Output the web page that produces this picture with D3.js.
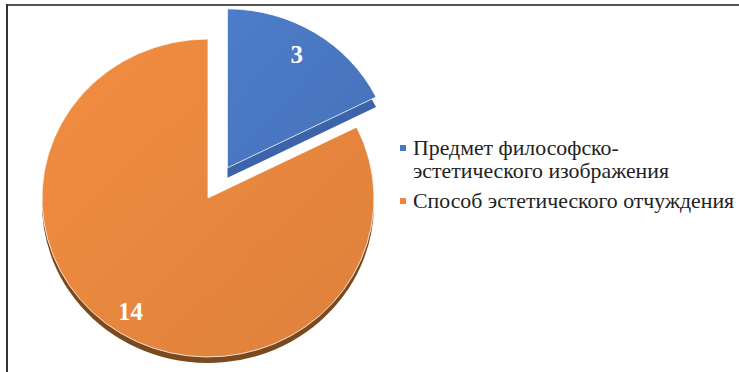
<!DOCTYPE html>
<html>
<head>
<meta charset="utf-8">
<script src="https://cdn.jsdelivr.net/npm/d3@7"></script>
<style>
  body { margin: 0; background: #fff; }
  svg { display: block; }
  text { font-family: 'Liberation Serif', 'DejaVu Serif', serif; }
</style>
</head>
<body>
<div id="chart"></div>
<script>
// données du graphique
const categories = ["Предмет философско-эстетического изображения", "Способ эстетического отчуждения"];
const legendLines = [["Предмет философско-", "эстетического изображения"], ["Способ эстетического отчуждения"]];
const values = [3, 14];
const colors = ["#4a77c1", "#e8873e"];
const sideColors = ["#3c64a8", "#7a4a1e"];

const width = 739, height = 372;
const cx = 208, cy = 198;      // centre du camembert
const rx = 166, ry = 159;      // ellipse (léger effet 3D)
const explode = [37, 0];
const depth = [10, 6];

const svg = d3.select("#chart").append("svg")
    .attr("width", width)
    .attr("height", height);

// dégradés pour les faces
const defs = svg.append("defs");
colors.forEach((c, i) => {
  const g = defs.append("linearGradient")
      .attr("id", "grad" + i)
      .attr("x1", "0%").attr("y1", "0%")
      .attr("x2", "100%").attr("y2", "100%");
  g.append("stop").attr("offset", "0%").attr("stop-color", d3.color(c).brighter(0.12));
  g.append("stop").attr("offset", "100%").attr("stop-color", d3.color(c).darker(0.12));
});

// cadre (haut et gauche)
svg.append("line").attr("x1", 7).attr("x2", width).attr("y1", 5).attr("y2", 5)
    .attr("stroke", "#555").attr("stroke-width", 2);
svg.append("line").attr("x1", 7).attr("x2", 7).attr("y1", 4).attr("y2", height)
    .attr("stroke", "#333").attr("stroke-width", 2);

const pie = d3.pie().sort(null).value(d => d);
const arcs = pie(values);

const arc = d3.arc().innerRadius(0).outerRadius(rx);
const labelArc = d3.arc().innerRadius(rx * 0.84).outerRadius(rx * 0.84);

const k = ry / rx;

// position de chaque part (avec la part éclatée)
function offset(d, i) {
  const mid = (d.startAngle + d.endAngle) / 2;
  return [cx + Math.sin(mid) * explode[i], cy - Math.cos(mid) * explode[i] * k];
}

const slices = svg.selectAll(".slice")
    .data(arcs)
    .enter().append("g")
    .attr("class", "slice")
    .attr("transform", (d, i) => {
      const o = offset(d, i);
      return "translate(" + o[0] + "," + o[1] + ")";
    });

// face latérale (épaisseur)
slices.append("path")
    .attr("transform", (d, i) => "translate(0," + depth[i] + ") scale(1," + k + ")")
    .attr("d", arc)
    .attr("fill", (d, i) => sideColors[i]);

// face du dessus
slices.append("path")
    .attr("transform", "scale(1," + k + ")")
    .attr("d", arc)
    .attr("fill", (d, i) => "url(#grad" + i + ")")
    .attr("stroke", "#fff")
    .attr("stroke-width", 1)
    .attr("stroke-opacity", 0.8);

// étiquettes de valeurs
slices.append("text")
    .attr("x", d => labelArc.centroid(d)[0] - 4)
    .attr("y", d => labelArc.centroid(d)[1] * k)
    .attr("text-anchor", "middle")
    .attr("dominant-baseline", "central")
    .attr("font-weight", "bold")
    .attr("font-size", 25)
    .attr("fill", "#fff")
    .text(d => d.data);

// légende
const legend = svg.append("g").attr("transform", "translate(400,0)");
const legendBase = [155, 208];
const lineH = 23;
categories.forEach((c, i) => {
  legend.append("rect")
      .attr("x", 0).attr("y", legendBase[i] - 10)
      .attr("width", 6).attr("height", 6)
      .attr("fill", colors[i]);
  legendLines[i].forEach((t, j) => {
    legend.append("text")
        .attr("transform", "translate(13," + (legendBase[i] + j * lineH) + ") scale(1.064,1)")
        .attr("font-size", 20.5)
        .attr("fill", "#222")
        .text(t);
  });
});
</script>
</body>
</html>
